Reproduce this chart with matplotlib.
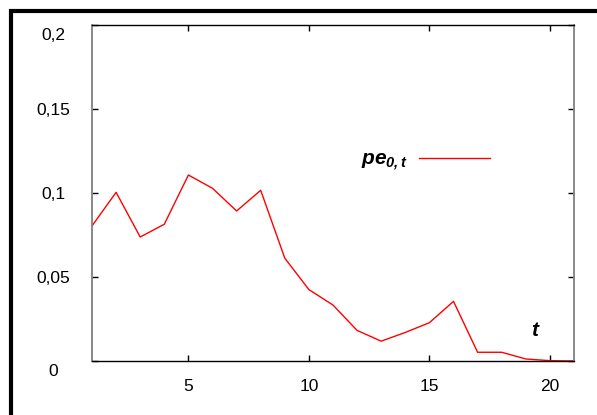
import matplotlib.pyplot as plt
from matplotlib.lines import Line2D
from matplotlib.ticker import FuncFormatter
import matplotlib.transforms as mtransforms

plt.rcParams['font.family'] = 'Liberation Sans'
plt.rcParams['mathtext.fontset'] = 'custom'
plt.rcParams['mathtext.it'] = 'Liberation Sans:bold:italic'
plt.rcParams['mathtext.rm'] = 'Liberation Sans:bold:italic'

# datos
t = list(range(1, 22))
pe = [0.0804, 0.1004, 0.0738, 0.0814, 0.1107, 0.1028, 0.0893, 0.1016,
      0.0612, 0.0425, 0.0333, 0.0182, 0.0118, 0.0170, 0.0228, 0.0355,
      0.0052, 0.0052, 0.0012, 0.0002, 0.0]
xticks = [5, 10, 15, 20]
yticks = [0, 0.05, 0.1, 0.15, 0.2]

fig = plt.figure(figsize=(5.97, 4.15), dpi=100)
W, H = 597, 415
ax = fig.add_axes([92 / W, 1 - 361 / H, (574 - 92) / W, (361 - 25) / H])

ax.plot(t, pe, color='red', lw=1, label='$pe_{0,t}$')
ax.set_xlim(1, 21)
ax.set_ylim(0, 0.2)
ax.set_xticks(xticks)
ax.set_yticks(yticks)
ax.yaxis.set_major_formatter(FuncFormatter(lambda v, p: f"{v:g}".replace('.', ',')))

ax.tick_params(direction='in', length=4, top=True, right=True, labelsize=12.5, width=1)
ax.tick_params(axis='x', pad=13)
ax.tick_params(axis='y', pad=0)
fig.canvas.draw()
for lab, v in zip(ax.get_yticklabels(), yticks):
    lab.set_horizontalalignment('center')
    lab.set_x(-0.08)
    if v in (0, 0.2):
        # etiquetas extremas desplazadas hacia abajo
        lab.set_transform(lab.get_transform() +
                          mtransforms.ScaledTranslation(0, -8.5 / 100, fig.dpi_scale_trans))
for s in ['left', 'right']:
    ax.spines[s].set_color('#808080')
    ax.spines[s].set_linewidth(1.3)
for s in ['top', 'bottom']:
    ax.spines[s].set_color('black')
    ax.spines[s].set_linewidth(1)

# leyenda
ax.legend(loc='center left', bbox_to_anchor=(0.558, 0.594), frameon=False,
          markerfirst=False, fontsize=15, handlelength=3.4, handletextpad=0.55,
          borderpad=0, borderaxespad=0)

ax.text(0.919, 0.092, 't', transform=ax.transAxes, fontsize=15,
        fontweight='bold', fontstyle='italic', ha='center', va='center')

# marco exterior
fig.add_artist(Line2D([11.3 / W, 11.3 / W], [0, 1 - 9.3 / H], color='black', lw=3,
                      solid_capstyle='butt'))
fig.add_artist(Line2D([9.3 / W, 1], [1 - 11.3 / H, 1 - 11.3 / H], color='black', lw=3,
                      solid_capstyle='butt'))

plt.savefig('out.png', dpi=100)
